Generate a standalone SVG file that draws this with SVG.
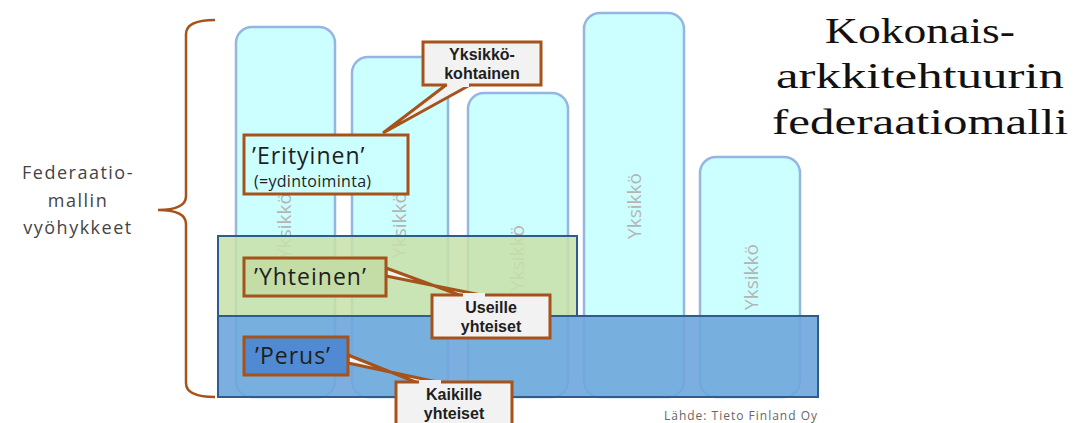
<svg xmlns="http://www.w3.org/2000/svg" width="1073" height="423" viewBox="0 0 1073 423">
<style>
.col{fill:#ccffff;stroke:#95b5e3;stroke-width:2.5}
.unit{font-family:"Open Sans","Liberation Sans",sans-serif;font-size:19px;fill:#b4b4b4;text-anchor:middle}
.box{stroke:#a5521b;stroke-width:3}
.lbl{font-family:"Open Sans","Liberation Sans",sans-serif;fill:#1e1e1e}
.call{font-family:"Liberation Sans",Arial,sans-serif;font-size:16px;font-weight:bold;fill:#1e1e1e;text-anchor:middle}
.title{font-family:"Liberation Serif",serif;font-size:36px;fill:#111;text-anchor:middle}
</style>
<g id="columns">
<g id="col1"><rect class="col" x="236" y="27" width="99" height="370" rx="16"/><text class="unit" transform="translate(291,226) rotate(-90)">Yksikkö</text></g>
<g id="col2"><rect class="col" x="352" y="57" width="96" height="340" rx="16"/><text class="unit" transform="translate(406,225) rotate(-90)">Yksikkö</text></g>
<g id="col3"><rect class="col" x="468" y="93" width="100" height="304" rx="16"/><text class="unit" transform="translate(524,258) rotate(-90)">Yksikkö</text></g>
<g id="col4"><rect class="col" x="584" y="13" width="100" height="384" rx="16"/><text class="unit" transform="translate(641,206) rotate(-90)">Yksikkö</text></g>
<g id="col5"><rect class="col" x="700" y="157" width="100" height="240" rx="16"/><text class="unit" transform="translate(758,277) rotate(-90)">Yksikkö</text></g>
</g>
<g id="bands">
<rect id="band-yhteinen" x="218" y="236" width="359" height="80" fill="#c8e0a8" fill-opacity="0.85" stroke="#2f5c8f" stroke-width="2"/>
<rect id="band-perus" x="218" y="316" width="600" height="81" fill="#6ea6dc" fill-opacity="0.9" stroke="#2f5c8f" stroke-width="2"/>
</g>
<g id="brace">
<path d="M215,20 Q186,20 186,34 L186,196 Q186,210 158,210 Q186,210 186,224 L186,383 Q186,397 215,397" fill="none" stroke="#a5521b" stroke-width="2.5"/>
</g>
<g id="zone-label">
<text font-family="'Open Sans','Liberation Sans',sans-serif" font-size="18" fill="#444" text-anchor="middle" letter-spacing="1.5"><tspan x="78" y="179">Federaatio-</tspan><tspan x="78" y="207">mallin</tspan><tspan x="78" y="234">vyöhykkeet</tspan></text>
</g>
<g id="title">
<text class="title"><tspan x="920" y="43" textLength="190" lengthAdjust="spacingAndGlyphs">Kokonais-</tspan><tspan x="920" y="88" textLength="288" lengthAdjust="spacingAndGlyphs">arkkitehtuurin</tspan><tspan x="920" y="134" textLength="296" lengthAdjust="spacingAndGlyphs">federaatiomalli</tspan></text>
</g>
<g id="connectors">
<path d="M446,85 L383,133 L470,85" fill="#f2f2f2" stroke="#a5521b" stroke-width="3" stroke-linejoin="miter"/>
<path d="M386,268 L462,296 L486,296 L386,276 Z" fill="#f2f2f2" stroke="#a5521b" stroke-width="3"/>
<path d="M348,355 L418,383 L442,383 L348,363 Z" fill="#f2f2f2" stroke="#a5521b" stroke-width="3"/>
</g>
<g id="callout-yksikkokohtainen">
<rect class="box" x="423" y="42" width="118" height="43" fill="#f2f2f2"/>
<path d="M447,85 L469,85" stroke="#f2f2f2" stroke-width="4"/>
<text class="call"><tspan x="482" y="60">Yksikkö-</tspan><tspan x="482" y="79">kohtainen</tspan></text>
</g>
<g id="node-erityinen">
<rect class="box" x="244" y="135" width="164" height="59" fill="#ccffff"/>
<text class="lbl" font-size="23" x="252" y="164" letter-spacing="1">’Erityinen’</text>
<text class="lbl" font-size="16" x="254" y="187" letter-spacing="0.3">(=ydintoiminta)</text>
</g>
<g id="node-yhteinen">
<rect class="box" x="244" y="258" width="142" height="38" fill="#c4dca6"/>
<text class="lbl" font-size="23" x="254" y="285" letter-spacing="1">’Yhteinen’</text>
</g>
<g id="callout-useille">
<rect class="box" x="432" y="295" width="118" height="43" fill="#f2f2f2"/>
<path d="M463,295 L485,295" stroke="#f2f2f2" stroke-width="4"/>
<text class="call"><tspan x="491" y="313">Useille</tspan><tspan x="491" y="332">yhteiset</tspan></text>
</g>
<g id="node-perus">
<rect class="box" x="244" y="337" width="104" height="38" fill="#4f8ad2"/>
<text class="lbl" font-size="23" x="255" y="364" letter-spacing="1">’Perus’</text>
</g>
<g id="callout-kaikille">
<rect class="box" x="396" y="382" width="116" height="50" fill="#f2f2f2"/>
<path d="M419,382 L441,382" stroke="#f2f2f2" stroke-width="4"/>
<text class="call"><tspan x="454" y="400">Kaikille</tspan><tspan x="454" y="419">yhteiset</tspan></text>
</g>
<g id="source">
<text font-family="'Open Sans','Liberation Sans',sans-serif" font-size="12" fill="#666" x="741" y="420" text-anchor="middle" letter-spacing="1">Lähde: Tieto Finland Oy</text>
</g>
</svg>
